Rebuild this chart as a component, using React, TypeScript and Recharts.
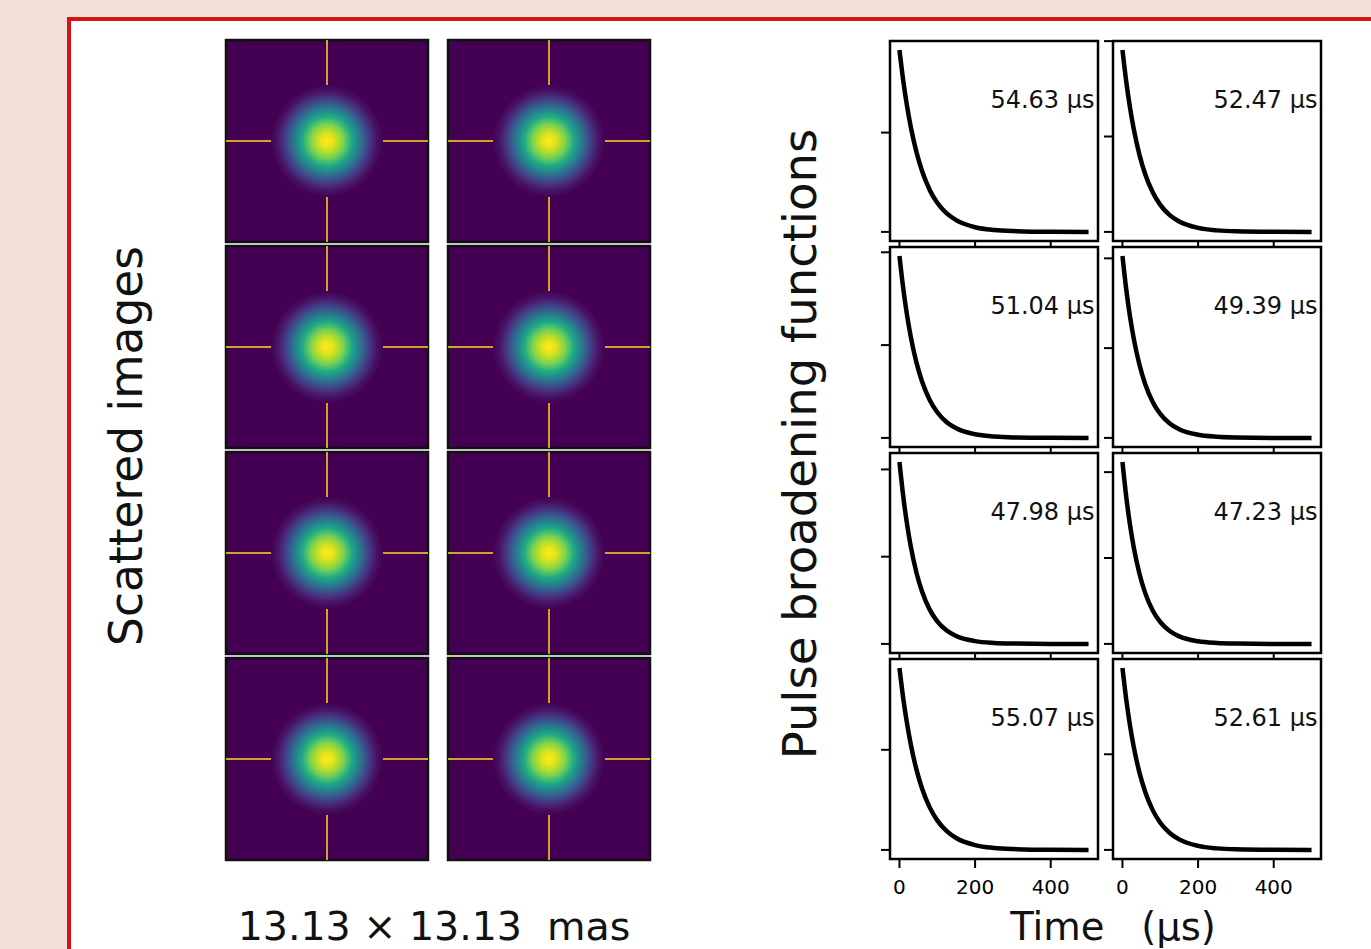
import React from 'react';
import {
  ComposedChart,
  LineChart,
  Line,
  Scatter,
  XAxis,
  YAxis,
  ReferenceArea,
  ReferenceLine,
} from 'recharts';

// sample times of the pulse broadening functions (μs)
const TIME_US = [0, 10, 20, 30, 45, 60, 80, 100, 125, 150, 200, 250, 300, 400, 500];

// PBF amplitudes (×1e-3)
const pbf1 = [18.31, 15.24, 12.69, 10.57, 8.03, 6.10, 4.23, 2.93, 1.86, 1.18, 0.47, 0.19, 0.08, 0.01, 0];
const pbf2 = [19.06, 15.75, 13.02, 10.76, 8.08, 6.07, 4.15, 2.83, 1.76, 1.09, 0.42, 0.16, 0.06, 0.01, 0];
const pbf3 = [19.59, 16.11, 13.24, 10.89, 8.11, 6.05, 4.09, 2.76, 1.69, 1.04, 0.39, 0.15, 0.05, 0.01, 0];
const pbf4 = [20.25, 16.54, 13.50, 11.03, 8.14, 6.01, 4.01, 2.67, 1.61, 0.97, 0.35, 0.13, 0.05, 0, 0];
const pbf5 = [20.84, 16.92, 13.74, 11.15, 8.16, 5.97, 3.93, 2.59, 1.54, 0.91, 0.32, 0.11, 0.04, 0, 0];
const pbf6 = [21.17, 17.13, 13.86, 11.22, 8.17, 5.94, 3.89, 2.55, 1.50, 0.88, 0.31, 0.11, 0.04, 0, 0];
const pbf7 = [18.16, 15.14, 12.63, 10.53, 8.02, 6.11, 4.25, 2.95, 1.88, 1.19, 0.48, 0.19, 0.08, 0.01, 0];
const pbf8 = [19.01, 15.72, 13.00, 10.75, 8.08, 6.08, 4.16, 2.84, 1.77, 1.10, 0.42, 0.16, 0.06, 0.01, 0];

const pbfSeries = [pbf1, pbf2, pbf3, pbf4, pbf5, pbf6, pbf7, pbf8];
const pbfLabels = ['54.63 μs', '52.47 μs', '51.04 μs', '49.39 μs', '47.98 μs', '47.23 μs', '55.07 μs', '52.61 μs'];

const timeTicks = [0, 200, 400];
const pbfTicks = [0, 10, 20];

// scattered images: 13.13 mas field, blob centre per panel (mas)
const FIELD_HALF = 6.565;
const CROSS_GAP = 3.2;
const blobX = [0, 0, 0, 0, 0, 0, 0, 0];
const blobY = [0, 0, 0, 0, 0, 0, 0, 0];

const FONT = '"DejaVu Sans", sans-serif';
const CROSS_COLOR = '#d2a22e';

const IMG_COLS = [226, 448];
const IMG_ROWS = [40, 246, 452, 658];
const IMG_SIZE = 202;
const IMG_PAD = 3;

const PBF_COLS = [890, 1113];
const PBF_ROWS = [41, 247, 453, 659];
const PBF_W = 208;
const PBF_H = 200;
const Y_AXIS_W = 20;
const M_TOP = 10;
const M_RIGHT = 10;
const X_AXIS_H = 40;

const blank = () => '';

const ImagePanel = ({ idx }: { idx: number }) => {
  const col = idx % 2;
  const row = Math.floor(idx / 2);
  const size = IMG_SIZE + IMG_PAD * 2;
  return (
    <div style={{ position: 'absolute', left: IMG_COLS[col] - IMG_PAD, top: IMG_ROWS[row] - IMG_PAD }}>
      <ComposedChart
        width={size}
        height={size}
        margin={{ top: IMG_PAD, right: IMG_PAD, bottom: IMG_PAD, left: IMG_PAD }}
        data={[{ x: blobX[idx], y: blobY[idx] }]}
      >
        <XAxis type="number" dataKey="x" domain={[-FIELD_HALF, FIELD_HALF]} allowDataOverflow hide />
        <YAxis type="number" dataKey="y" domain={[-FIELD_HALF, FIELD_HALF]} allowDataOverflow hide />
        <ReferenceArea
          x1={-FIELD_HALF}
          x2={FIELD_HALF}
          y1={-FIELD_HALF}
          y2={FIELD_HALF}
          fill="#440154"
          fillOpacity={1}
          stroke="#111"
          strokeWidth={2.5}
        />
        <Scatter
          dataKey="y"
          isAnimationActive={false}
          shape={(p: any) => <circle cx={p.cx} cy={p.cy} r={56} fill="url(#viridisBlob)" />}
        />
        {/* crosshair */}
        <ReferenceLine segment={[{ x: -FIELD_HALF, y: 0 }, { x: -CROSS_GAP, y: 0 }]} stroke={CROSS_COLOR} strokeWidth={2} />
        <ReferenceLine segment={[{ x: CROSS_GAP, y: 0 }, { x: FIELD_HALF, y: 0 }]} stroke={CROSS_COLOR} strokeWidth={2} />
        <ReferenceLine segment={[{ x: 0, y: -FIELD_HALF }, { x: 0, y: -CROSS_GAP }]} stroke={CROSS_COLOR} strokeWidth={2} />
        <ReferenceLine segment={[{ x: 0, y: CROSS_GAP }, { x: 0, y: FIELD_HALF }]} stroke={CROSS_COLOR} strokeWidth={2} />
      </ComposedChart>
    </div>
  );
};

const PbfPanel = ({ idx }: { idx: number }) => {
  const col = idx % 2;
  const row = Math.floor(idx / 2);
  const values = pbfSeries[idx];
  const data = TIME_US.map((t, i) => ({ t, v: values[i] }));
  const vmax = Math.max(...values);
  const yLo = -0.05 * vmax;
  const yHi = 1.05 * vmax;
  const yTicks = pbfTicks.filter((t) => t <= yHi);
  const isBottom = row === PBF_ROWS.length - 1;
  const left = PBF_COLS[col];
  const top = PBF_ROWS[row];
  return (
    <>
      <div style={{ position: 'absolute', left: left - Y_AXIS_W, top: top - M_TOP }}>
        <LineChart
          width={Y_AXIS_W + PBF_W + M_RIGHT}
          height={M_TOP + PBF_H + X_AXIS_H}
          margin={{ top: M_TOP, right: M_RIGHT, bottom: 0, left: 0 }}
          data={data}
        >
          <XAxis
            type="number"
            dataKey="t"
            domain={[-25, 525]}
            ticks={timeTicks}
            height={X_AXIS_H}
            axisLine={false}
            tickSize={9}
            tickMargin={12}
            stroke="#000"
            tickLine={{ stroke: '#000', strokeWidth: 2 }}
            tick={{ fill: '#000', fontSize: 20, fontFamily: FONT }}
            tickFormatter={isBottom ? undefined : blank}
            interval={0}
            allowDataOverflow
          />
          <YAxis
            type="number"
            domain={[yLo, yHi]}
            ticks={yTicks}
            width={Y_AXIS_W}
            axisLine={false}
            tickSize={9}
            stroke="#000"
            tickLine={{ stroke: '#000', strokeWidth: 2 }}
            tick={{ fill: '#000', fontSize: 10 }}
            tickFormatter={blank}
            interval={0}
            allowDataOverflow
          />
          <ReferenceArea
            x1={-25}
            x2={525}
            y1={yLo}
            y2={yHi}
            fill="#fff"
            fillOpacity={1}
            stroke="#000"
            strokeWidth={2.5}
          />
          <Line
            type="monotone"
            dataKey="v"
            stroke="#000"
            strokeWidth={4.5}
            dot={false}
            isAnimationActive={false}
          />
        </LineChart>
      </div>
      <div
        style={{
          position: 'absolute',
          left: left + PBF_W - 3.5 - 300,
          width: 300,
          top: top + 58 - 11.5,
          fontSize: 24,
          lineHeight: '24px',
          textAlign: 'right',
          fontFamily: FONT,
          color: '#111',
          whiteSpace: 'pre',
        }}
      >
        {pbfLabels[idx]}
      </div>
    </>
  );
};

const rotated = (cx: number, cy: number, size: number, text: string) => (
  <div
    style={{
      position: 'absolute',
      left: cx,
      top: cy,
      transform: 'translate(-50%, -50%) rotate(-90deg)',
      fontSize: size,
      lineHeight: `${size}px`,
      fontFamily: FONT,
      color: '#111',
      whiteSpace: 'pre',
    }}
  >
    {text}
  </div>
);

const centered = (cx: number, cy: number, size: number, text: string) => (
  <div
    style={{
      position: 'absolute',
      left: cx,
      top: cy,
      transform: 'translate(-50%, -50%)',
      fontSize: size,
      lineHeight: `${size}px`,
      fontFamily: FONT,
      color: '#111',
      whiteSpace: 'pre',
    }}
  >
    {text}
  </div>
);

export default function App() {
  const panelIdx = [0, 1, 2, 3, 4, 5, 6, 7];
  return (
    <div
      style={{
        position: 'absolute',
        left: 0,
        top: 0,
        width: 1371,
        height: 949,
        overflow: 'hidden',
        background: '#f2e0db',
        fontFamily: FONT,
      }}
    >
      <svg width={0} height={0} style={{ position: 'absolute' }}>
        <defs>
          <radialGradient id="viridisBlob" cx="50%" cy="50%" r="50%">
            <stop offset="0" stopColor="#fde725" />
            <stop offset="0.107" stopColor="#e8e419" />
            <stop offset="0.196" stopColor="#b5de2b" />
            <stop offset="0.3" stopColor="#7ad151" />
            <stop offset="0.375" stopColor="#44bf70" />
            <stop offset="0.446" stopColor="#22a884" />
            <stop offset="0.518" stopColor="#21918c" />
            <stop offset="0.589" stopColor="#2a788e" />
            <stop offset="0.66" stopColor="#355f8d" />
            <stop offset="0.73" stopColor="#414487" />
            <stop offset="0.8" stopColor="#472d7b" />
            <stop offset="0.89" stopColor="#471365" />
            <stop offset="1" stopColor="#440154" />
          </radialGradient>
        </defs>
      </svg>
      <div
        style={{
          position: 'absolute',
          left: 67,
          top: 17,
          width: 1400,
          height: 1000,
          background: '#fff',
          border: '4px solid #d61414',
        }}
      />
      {panelIdx.map((i) => (
        <ImagePanel key={`img-${i}`} idx={i} />
      ))}
      {panelIdx.map((i) => (
        <PbfPanel key={`pbf-${i}`} idx={i} />
      ))}
      {rotated(127, 446, 45.5, 'Scattered images')}
      {rotated(800, 444, 46.5, 'Pulse broadening functions')}
      {centered(434, 927, 39.5, '13.13 × 13.13  mas')}
      {centered(1113, 927, 38.5, 'Time   (μs)')}
    </div>
  );
}
